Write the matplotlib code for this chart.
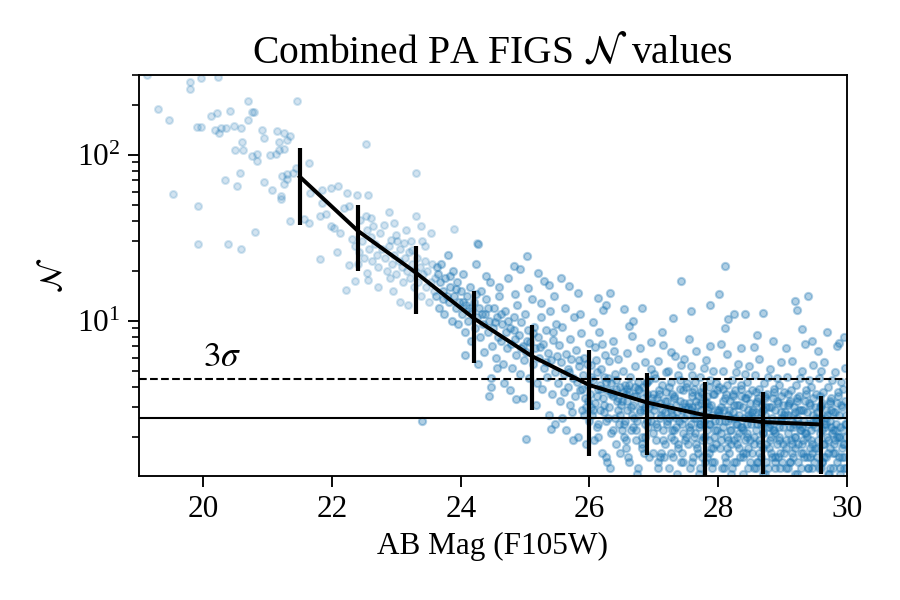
import numpy as np
import matplotlib
matplotlib.use("Agg")
import matplotlib.pyplot as plt

plt.rcParams["font.family"] = ["Liberation Serif", "DejaVu Serif"]
plt.rcParams["mathtext.fontset"] = "stix"

# binned median curve
bin_mag = [21.5, 22.4, 23.3, 24.2, 25.1, 26.0, 26.9, 27.8, 28.7, 29.6]
bin_n = [73.6, 34.8, 19.5, 10.35, 6.13, 4.09, 3.21, 2.69, 2.45, 2.37]
bin_err = [36.0, 15.0, 8.5, 4.8, 3.25, 2.55, 1.65, 1.57, 1.25, 1.17]

line_3sigma = 4.48
line_mean = 2.61

# scatter cloud, estimated point by point (mag, N)
bright_pts = [
    (19.12, 300), (19.30, 189), (19.47, 161), (19.53, 58), (19.79, 273), (19.79, 249), (19.96, 290),
    (19.90, 146), (19.96, 146), (19.92, 49), (19.91, 29), (20.12, 172), (20.22, 178), (20.23, 295),
    (20.18, 141), (20.25, 136), (20.27, 144), (20.36, 144), (20.42, 184), (20.38, 29), (20.33, 70),
    (20.48, 148), (20.58, 144), (20.50, 107), (20.61, 106), (20.52, 65), (20.57, 78), (20.58, 27),
    (20.60, 119), (20.70, 212), (20.76, 182), (20.79, 180), (20.69, 162), (20.76, 98), (20.83, 101),
    (20.83, 91), (20.80, 34), (20.91, 140), (20.94, 126), (20.94, 68), (21.03, 99), (21.13, 101),
    (21.07, 61), (21.20, 56), (21.21, 54), (21.15, 138), (21.17, 120), (21.26, 135), (21.30, 123),
    (21.35, 130), (21.25, 108), (21.17, 107), (21.22, 74), (21.30, 76), (21.40, 78), (21.44, 83),
    (21.26, 67), (21.30, 71), (21.46, 211), (21.35, 40), (21.56, 41), (21.64, 39), (21.64, 89),
]

band_pts = [
    (21.66, 59), (21.85, 61), (21.98, 63), (22.10, 65), (21.85, 51), (21.90, 44), (21.82, 42.5),
    (21.98, 37), (22.03, 36), (22.13, 33.7), (22.18, 47.7), (22.26, 48.9), (22.24, 59), (22.39, 57),
    (22.56, 57), (22.52, 116), (21.82, 23.5), (22.08, 25.8), (22.22, 15.4), (22.35, 17.3),
    (22.26, 21.7), (22.55, 19.4), (22.56, 17.7), (22.44, 40.6), (22.52, 42.5), (22.60, 41.5),
    (22.64, 37), (22.75, 33.7), (22.80, 37.8), (22.96, 38.8), (22.91, 30.8), (23.01, 30),
    (23.12, 29.4), (23.22, 30), (23.30, 42.5), (23.38, 37), (23.53, 33.7), (23.31, 77.6),
    (23.90, 35.6), (24.26, 29.4),
    (22.31, 31), (22.36, 28), (22.42, 26), (22.47, 30), (22.50, 24), (22.58, 27), (22.62, 23),
    (22.67, 29), (22.70, 25), (22.72, 21), (22.78, 27), (22.83, 24), (22.85, 20), (22.88, 28),
    (22.93, 22), (22.97, 25), (23.00, 19), (23.04, 23), (23.06, 27), (23.09, 21), (23.11, 17),
    (23.14, 24), (23.17, 20), (23.19, 26), (23.21, 18), (23.24, 22), (23.27, 16), (23.29, 20),
    (23.32, 24), (23.34, 17), (23.36, 21), (23.39, 14), (23.41, 19), (23.44, 23), (23.46, 16),
    (23.48, 20), (23.51, 13), (23.53, 17), (23.56, 22), (23.58, 15), (23.60, 18), (22.72, 16),
    (22.95, 15), (23.05, 13), (23.18, 12.5), (23.25, 26.5), (23.45, 28), (22.88, 45), (23.15, 35),
    (23.40, 30), (22.60, 32), (22.40, 22), (22.55, 35), (22.90, 18), (23.00, 33),
]

mid_pts = [
    (23.62, 14), (23.64, 19), (23.66, 12), (23.68, 17), (23.70, 22), (23.72, 15), (23.74, 11),
    (23.76, 18), (23.78, 14), (23.80, 25), (23.82, 13), (23.84, 16), (23.86, 10), (23.88, 20),
    (23.90, 14), (23.92, 12), (23.94, 17), (23.96, 9.5), (23.98, 13), (24.00, 15), (24.02, 11),
    (24.04, 19), (24.06, 8.5), (24.08, 12.5), (24.10, 14), (24.12, 10), (24.14, 16), (24.16, 7.5),
    (24.18, 11.5), (24.20, 13), (24.22, 9), (24.24, 22), (24.26, 10.5), (24.28, 12), (24.30, 8),
    (24.32, 15), (24.34, 9.5), (24.36, 6.5), (24.38, 11), (24.40, 13.5), (24.42, 8.5), (24.44, 10),
    (24.46, 17), (24.48, 7), (24.50, 9), (24.52, 12), (24.54, 6), (24.56, 10.5), (24.58, 8),
    (24.60, 14), (24.62, 7.5), (24.64, 9.5), (24.66, 5.5), (24.68, 11.5), (24.70, 8.5), (24.72, 6.8),
    (24.74, 18), (24.76, 9), (24.78, 7.2), (24.80, 5.2), (24.82, 10.5), (24.84, 7.8), (24.86, 6.2),
    (24.88, 12.5), (24.90, 8.2), (24.92, 4.8), (24.94, 9.8), (24.96, 7), (24.98, 5.8), (25.00, 11),
    (25.02, 6.5), (25.04, 8.8), (25.06, 4.5), (25.08, 7.4), (25.10, 13.5), (25.12, 5.5), (25.14, 9.2),
    (25.16, 6.8), (25.18, 4.2), (25.20, 8), (25.22, 6), (25.24, 10.5), (25.26, 3.9), (25.28, 7.2),
    (25.30, 5.2), (25.32, 8.8), (25.34, 4.6), (25.36, 6.4), (25.38, 11.5), (25.40, 5.8), (25.42, 3.6),
    (25.44, 7.6), (25.46, 4.9), (25.48, 9.5), (25.50, 6.1),
    (23.63, 21), (23.73, 13.5), (23.83, 18.5), (23.93, 15.5), (24.03, 13), (24.13, 12), (24.23, 14.5),
    (24.33, 11), (24.43, 12), (24.53, 9.8), (24.63, 11), (24.73, 10), (24.83, 8.8), (24.93, 6.8),
    (25.03, 7.5), (25.13, 8.4), (25.23, 6.9), (25.33, 5.6), (25.43, 8.5), (24.07, 6.2), (24.27, 5.5),
    (24.47, 4.5), (24.57, 5.2), (24.67, 4.2), (24.77, 3.8), (24.97, 3.4), (25.17, 3.1), (25.37, 2.7),
    (25.47, 2.4), (24.40, 18.5), (24.60, 16), (24.85, 14.5), (25.05, 15.8), (25.25, 12.8), (25.45, 14),
    (24.44, 3.5), (24.47, 4.0), (24.86, 3.39), (25.01, 1.95), (25.40, 2.24), (23.40, 2.47),
    (24.27, 29.1), (25.03, 24.6), (24.83, 21.4), (24.92, 20.6), (25.20, 19.5), (25.29, 17.3),
    (25.37, 16.5),
]

faint_pts = [
    # 25.5 - 26
    (25.51, 4.2), (25.52, 7.1), (25.54, 3.3), (25.55, 5.6), (25.57, 2.6), (25.58, 9.2), (25.60, 4.8),
    (25.61, 3.7), (25.63, 6.3), (25.64, 2.2), (25.66, 5.1), (25.67, 4.0), (25.69, 7.8), (25.70, 3.1),
    (25.72, 5.9), (25.73, 2.8), (25.75, 4.5), (25.76, 10.5), (25.78, 3.5), (25.79, 6.7), (25.81, 4.3),
    (25.82, 2.0), (25.84, 5.3), (25.85, 3.8), (25.87, 8.4), (25.88, 2.9), (25.90, 4.7), (25.91, 6.0),
    (25.93, 3.4), (25.94, 1.8), (25.96, 5.5), (25.97, 4.1), (25.99, 7.3), (26.00, 2.5), (25.62, 12.0),
    (25.86, 11.0), (25.74, 1.9), (25.95, 3.0), (25.68, 4.9), (25.83, 5.8),
    # 26 - 26.5
    (26.01, 3.6), (26.02, 5.4), (26.04, 2.7), (26.05, 4.4), (26.07, 1.9), (26.08, 6.9), (26.09, 3.2),
    (26.11, 4.9), (26.12, 2.3), (26.14, 3.9), (26.15, 8.6), (26.17, 2.9), (26.18, 5.1), (26.19, 1.6),
    (26.21, 3.4), (26.22, 4.6), (26.24, 6.2), (26.25, 2.5), (26.27, 3.8), (26.28, 1.4), (26.30, 5.7),
    (26.31, 3.0), (26.33, 4.2), (26.34, 2.1), (26.36, 7.5), (26.37, 3.5), (26.39, 2.6), (26.40, 4.8),
    (26.42, 1.8), (26.43, 3.3), (26.45, 5.9), (26.46, 2.4), (26.48, 4.0), (26.49, 3.1), (26.06, 9.8),
    (26.26, 1.5), (26.38, 6.6), (26.13, 2.0), (26.29, 4.5), (26.44, 2.9), (26.03, 3.0), (26.16, 4.1),
    (26.23, 2.8), (26.35, 3.7), (26.47, 1.6), (26.10, 5.8), (26.32, 1.3), (26.41, 3.9), (26.20, 7.2),
    (26.50, 2.2),
    # 26.5 - 27
    (26.51, 3.3), (26.52, 5.0), (26.54, 2.4), (26.55, 4.1), (26.56, 1.7), (26.58, 6.4), (26.59, 2.9),
    (26.61, 3.7), (26.62, 1.4), (26.63, 4.6), (26.65, 2.2), (26.66, 8.1), (26.68, 3.1), (26.69, 2.6),
    (26.71, 5.3), (26.72, 1.9), (26.73, 3.5), (26.75, 4.3), (26.76, 1.3), (26.78, 2.8), (26.79, 6.8),
    (26.80, 3.2), (26.82, 2.0), (26.83, 4.0), (26.85, 1.6), (26.86, 3.0), (26.87, 5.6), (26.89, 2.5),
    (26.90, 3.6), (26.92, 1.5), (26.93, 4.4), (26.94, 2.7), (26.96, 7.4), (26.97, 3.4), (26.99, 2.1),
    (27.00, 4.8), (26.53, 2.0), (26.57, 3.6), (26.60, 1.5), (26.64, 3.0), (26.67, 2.3), (26.70, 4.0),
    (26.74, 2.5), (26.77, 3.8), (26.81, 1.8), (26.84, 2.9), (26.88, 4.2), (26.91, 2.3), (26.95, 3.2),
    (26.98, 1.6), (26.62, 9.3), (26.74, 1.2), (26.86, 2.4), (26.95, 5.1), (26.58, 3.9),
    # 27 - 27.5
    (27.01, 2.9), (27.02, 4.5), (27.03, 1.9), (27.05, 3.4), (27.06, 1.4), (27.07, 5.7), (27.09, 2.6),
    (27.10, 3.2), (27.11, 1.6), (27.13, 4.1), (27.14, 2.2), (27.15, 7.1), (27.17, 2.8), (27.18, 1.8),
    (27.19, 3.7), (27.21, 2.4), (27.22, 5.0), (27.23, 1.3), (27.25, 3.0), (27.26, 2.0), (27.27, 4.3),
    (27.29, 2.7), (27.30, 1.5), (27.31, 3.5), (27.33, 6.1), (27.34, 2.3), (27.35, 3.1), (27.37, 1.7),
    (27.38, 4.7), (27.39, 2.5), (27.41, 3.3), (27.42, 1.4), (27.43, 5.4), (27.45, 2.1), (27.46, 3.8),
    (27.47, 2.6), (27.49, 1.9), (27.50, 4.0), (27.04, 2.4), (27.08, 3.8), (27.12, 2.9), (27.16, 1.5),
    (27.20, 3.3), (27.24, 2.6), (27.28, 3.6), (27.32, 1.9), (27.36, 2.8), (27.40, 4.4), (27.44, 1.6),
    (27.48, 3.0), (27.12, 8.6), (27.36, 1.2), (27.26, 6.5), (27.44, 2.9), (27.07, 1.3), (27.19, 4.9),
    (27.31, 2.2), (27.47, 5.9),
    # 27.5 - 28
    (27.51, 2.7), (27.52, 4.2), (27.53, 1.8), (27.55, 3.2), (27.56, 1.3), (27.57, 5.3), (27.58, 2.4),
    (27.60, 3.0), (27.61, 1.5), (27.62, 3.9), (27.64, 2.1), (27.65, 6.6), (27.66, 2.6), (27.67, 1.7),
    (27.69, 3.5), (27.70, 2.3), (27.71, 4.6), (27.72, 1.3), (27.74, 2.9), (27.75, 1.9), (27.76, 4.0),
    (27.78, 2.5), (27.79, 1.4), (27.80, 3.3), (27.81, 5.8), (27.83, 2.2), (27.84, 2.9), (27.85, 1.6),
    (27.87, 4.4), (27.88, 2.4), (27.89, 3.1), (27.90, 1.3), (27.92, 5.0), (27.93, 2.0), (27.94, 3.6),
    (27.95, 2.5), (27.97, 1.8), (27.98, 3.8), (27.99, 2.8), (27.54, 2.3), (27.59, 3.7), (27.63, 2.8),
    (27.68, 1.6), (27.73, 3.2), (27.77, 2.0), (27.82, 3.5), (27.86, 1.9), (27.91, 2.7), (27.96, 4.2),
    (27.54, 7.8), (27.70, 1.2), (27.88, 7.0), (27.62, 2.0), (27.78, 5.2), (27.66, 3.3), (27.83, 1.5),
    (27.94, 1.4), (27.57, 2.9), (27.72, 2.4), (27.86, 3.0), (27.98, 2.2), (27.60, 4.7), (27.75, 3.6),
    (27.92, 1.7),
    # 28 - 28.5
    (28.01, 2.5), (28.02, 4.0), (28.03, 1.7), (28.04, 3.0), (28.06, 1.3), (28.07, 5.0), (28.08, 2.3),
    (28.09, 2.9), (28.11, 1.5), (28.12, 3.6), (28.13, 2.0), (28.14, 6.3), (28.16, 2.5), (28.17, 1.6),
    (28.18, 3.3), (28.19, 2.2), (28.21, 4.4), (28.22, 1.3), (28.23, 2.8), (28.24, 1.9), (28.26, 3.8),
    (28.27, 2.4), (28.28, 1.4), (28.29, 3.1), (28.31, 5.5), (28.32, 2.1), (28.33, 2.7), (28.34, 1.5),
    (28.36, 4.1), (28.37, 2.3), (28.38, 3.0), (28.39, 1.2), (28.41, 4.8), (28.42, 1.9), (28.43, 3.4),
    (28.44, 2.4), (28.46, 1.7), (28.47, 3.6), (28.48, 2.6), (28.49, 1.4), (28.05, 2.1), (28.10, 3.4),
    (28.15, 2.7), (28.20, 1.8), (28.25, 3.1), (28.30, 2.0), (28.35, 3.5), (28.40, 2.6), (28.45, 2.0),
    (28.50, 3.2), (28.05, 7.2), (28.20, 1.2), (28.35, 6.8), (28.48, 5.3), (28.12, 1.4), (28.27, 4.9),
    (28.43, 1.6), (28.08, 3.9), (28.18, 2.6), (28.32, 1.7), (28.38, 2.2), (28.02, 2.7), (28.23, 3.5),
    (28.44, 4.3), (28.15, 1.9), (28.29, 2.4), (28.47, 2.9), (28.10, 9.0),
    # 28.5 - 29
    (28.51, 2.4), (28.52, 3.8), (28.53, 1.6), (28.54, 2.9), (28.56, 1.3), (28.57, 4.7), (28.58, 2.2),
    (28.59, 2.8), (28.61, 1.4), (28.62, 3.4), (28.63, 1.9), (28.64, 5.9), (28.66, 2.4), (28.67, 1.5),
    (28.68, 3.1), (28.69, 2.1), (28.71, 4.2), (28.72, 1.2), (28.73, 2.7), (28.74, 1.8), (28.76, 3.6),
    (28.77, 2.3), (28.78, 1.3), (28.79, 3.0), (28.81, 5.1), (28.82, 2.0), (28.83, 2.6), (28.84, 1.5),
    (28.86, 3.9), (28.87, 2.2), (28.88, 2.9), (28.89, 1.3), (28.91, 4.5), (28.92, 1.8), (28.93, 3.2),
    (28.94, 2.3), (28.96, 1.6), (28.97, 3.5), (28.98, 2.5), (28.99, 1.4), (28.55, 2.0), (28.60, 3.3),
    (28.65, 2.6), (28.70, 1.7), (28.75, 3.0), (28.80, 1.9), (28.85, 3.4), (28.90, 2.5), (28.95, 1.9),
    (29.00, 3.1), (28.55, 6.9), (28.70, 1.2), (28.85, 7.5), (28.97, 5.6), (28.62, 1.4), (28.77, 4.6),
    (28.93, 1.5), (28.58, 3.7), (28.68, 2.5), (28.82, 1.6), (28.88, 2.1), (28.52, 2.6), (28.73, 3.4),
    (28.94, 4.1), (28.65, 1.8), (28.79, 2.3), (28.98, 2.8), (28.70, 11.2), (28.60, 8.2),
    # 29 - 29.5
    (29.01, 2.3), (29.02, 3.7), (29.03, 1.6), (29.04, 2.8), (29.06, 1.3), (29.07, 4.6), (29.08, 2.1),
    (29.09, 2.7), (29.11, 1.4), (29.12, 3.3), (29.13, 1.9), (29.14, 5.7), (29.16, 2.3), (29.17, 1.5),
    (29.18, 3.0), (29.19, 2.0), (29.21, 4.1), (29.22, 1.2), (29.23, 2.6), (29.24, 1.8), (29.26, 3.5),
    (29.27, 2.2), (29.28, 1.3), (29.29, 2.9), (29.31, 5.0), (29.32, 1.9), (29.33, 2.5), (29.34, 1.5),
    (29.36, 3.8), (29.37, 2.1), (29.38, 2.8), (29.39, 1.3), (29.41, 4.4), (29.42, 1.7), (29.43, 3.1),
    (29.44, 2.2), (29.46, 1.6), (29.47, 3.4), (29.48, 2.4), (29.49, 1.4), (29.05, 1.9), (29.10, 3.2),
    (29.15, 2.5), (29.20, 1.7), (29.25, 2.9), (29.30, 1.8), (29.35, 3.3), (29.40, 2.4), (29.45, 1.8),
    (29.50, 3.0), (29.05, 6.8), (29.20, 1.2), (29.35, 7.2), (29.47, 5.4), (29.12, 1.4), (29.27, 4.5),
    (29.43, 1.5), (29.08, 3.6), (29.18, 2.4), (29.32, 1.6), (29.38, 2.0), (29.02, 2.5), (29.23, 3.3),
    (29.44, 4.0), (29.15, 1.8), (29.29, 2.2), (29.48, 2.7), (29.19, 13.1), (29.22, 11.6), (29.40, 14.0),
    (29.45, 7.5), (29.30, 8.9),
    # 29.5 - 30
    (29.51, 2.3), (29.52, 3.6), (29.53, 1.5), (29.54, 2.8), (29.56, 1.3), (29.57, 4.5), (29.58, 2.1),
    (29.59, 2.6), (29.61, 1.4), (29.62, 3.2), (29.63, 1.8), (29.64, 5.6), (29.66, 2.3), (29.67, 1.5),
    (29.68, 2.9), (29.69, 2.0), (29.71, 4.0), (29.72, 1.2), (29.73, 2.5), (29.74, 1.7), (29.76, 3.4),
    (29.77, 2.1), (29.78, 1.3), (29.79, 2.8), (29.81, 4.9), (29.82, 1.9), (29.83, 2.4), (29.84, 1.4),
    (29.86, 3.7), (29.87, 2.0), (29.88, 2.7), (29.89, 1.2), (29.91, 4.3), (29.92, 1.7), (29.93, 3.0),
    (29.94, 2.2), (29.96, 1.5), (29.97, 3.3), (29.98, 2.4), (29.99, 1.3), (29.55, 1.9), (29.60, 3.1),
    (29.65, 2.4), (29.70, 1.6), (29.75, 2.9), (29.80, 1.8), (29.85, 3.2), (29.90, 2.3), (29.95, 1.8),
    (29.55, 6.6), (29.70, 1.2), (29.85, 7.0), (29.97, 5.2), (29.62, 1.4), (29.77, 4.4), (29.93, 1.5),
    (29.58, 3.5), (29.68, 2.4), (29.82, 1.6), (29.88, 2.0), (29.52, 2.5), (29.73, 3.2), (29.94, 3.9),
    (29.65, 1.8), (29.79, 2.2), (29.98, 2.7), (29.69, 8.6), (29.87, 7.3), (29.95, 8.0), (29.60, 5.0),
    # upper outliers
    (26.32, 14.7), (26.13, 13.7), (26.21, 11.6), (26.25, 12.5), (26.54, 11.8), (26.67, 10.0),
    (26.81, 11.9), (27.30, 10.4), (27.43, 17.3), (27.58, 11.4), (27.87, 12.5), (28.02, 14.4),
    (28.10, 21.4), (28.15, 10.2), (28.25, 11.0), (28.42, 10.9), (25.56, 18.1), (25.68, 16.1),
    (25.82, 14.7),
]

core_pts = [
    (25.88, 3.9), (25.92, 2.7), (25.98, 3.3), (26.03, 4.6), (26.06, 2.9), (26.11, 3.5), (26.14, 2.4),
    (26.18, 3.9), (26.22, 3.1), (26.26, 4.3), (26.29, 2.6), (26.33, 3.6), (26.37, 2.2), (26.41, 4.4),
    (26.44, 3.4), (26.48, 2.7),
    (26.52, 3.7), (26.55, 2.5), (26.59, 3.3), (26.62, 4.1), (26.66, 2.7), (26.69, 3.5), (26.72, 2.2),
    (26.76, 3.9), (26.79, 2.9), (26.83, 3.4), (26.86, 2.0), (26.89, 4.3), (26.93, 3.0), (26.96, 2.5),
    (26.99, 3.6), (26.57, 1.9), (26.81, 1.7),
    (27.02, 3.1), (27.05, 2.3), (27.08, 3.6), (27.11, 2.7), (27.14, 1.9), (27.17, 3.3), (27.20, 2.5),
    (27.23, 4.0), (27.26, 2.9), (27.29, 2.2), (27.32, 3.4), (27.35, 2.6), (27.38, 1.8), (27.41, 3.9),
    (27.44, 2.4), (27.47, 3.2), (27.50, 2.0), (27.09, 1.5), (27.27, 1.6), (27.45, 1.4),
    (27.53, 3.0), (27.56, 2.2), (27.59, 3.5), (27.62, 2.6), (27.65, 1.8), (27.68, 3.1), (27.71, 2.4),
    (27.74, 3.7), (27.77, 2.7), (27.80, 2.0), (27.83, 3.2), (27.86, 2.4), (27.89, 1.7), (27.92, 3.6),
    (27.95, 2.2), (27.98, 2.9), (27.60, 1.4), (27.75, 1.5), (27.90, 1.4), (27.64, 4.3), (27.85, 4.0),
    (28.02, 2.9), (28.05, 1.9), (28.08, 3.3), (28.11, 2.5), (28.14, 1.7), (28.17, 2.9), (28.20, 2.2),
    (28.23, 3.6), (28.26, 2.6), (28.29, 1.8), (28.32, 3.1), (28.35, 2.3), (28.38, 1.6), (28.41, 3.4),
    (28.44, 2.1), (28.47, 2.7), (28.50, 1.9), (28.09, 1.3), (28.24, 1.4), (28.39, 1.5), (28.13, 4.1),
    (28.36, 3.9), (28.46, 1.3),
    (28.52, 2.8), (28.55, 1.8), (28.58, 3.2), (28.61, 2.4), (28.64, 1.6), (28.67, 2.8), (28.70, 2.1),
    (28.73, 3.5), (28.76, 2.5), (28.79, 1.7), (28.82, 3.0), (28.85, 2.2), (28.88, 1.5), (28.91, 3.3),
    (28.94, 2.0), (28.97, 2.6), (29.00, 1.8), (28.59, 1.3), (28.74, 1.4), (28.89, 1.4), (28.63, 3.9),
    (28.86, 3.7), (28.96, 1.3), (28.69, 2.9), (28.81, 2.4),
    (29.02, 2.7), (29.05, 1.7), (29.08, 3.1), (29.11, 2.3), (29.14, 1.6), (29.17, 2.7), (29.20, 2.0),
    (29.23, 3.4), (29.26, 2.4), (29.29, 1.6), (29.32, 2.9), (29.35, 2.1), (29.38, 1.5), (29.41, 3.2),
    (29.44, 1.9), (29.47, 2.5), (29.50, 1.7), (29.09, 1.3), (29.24, 1.4), (29.39, 1.3), (29.13, 3.8),
    (29.36, 3.6), (29.46, 1.3), (29.19, 2.8), (29.31, 2.3),
    (29.52, 2.6), (29.55, 1.7), (29.58, 3.0), (29.61, 2.2), (29.64, 1.5), (29.67, 2.6), (29.70, 1.9),
    (29.73, 3.3), (29.76, 2.3), (29.79, 1.6), (29.82, 2.8), (29.85, 2.0), (29.88, 1.5), (29.91, 3.1),
    (29.94, 1.8), (29.97, 2.4), (29.59, 1.3), (29.74, 1.3), (29.89, 1.3), (29.63, 3.7), (29.86, 3.5),
    (29.96, 1.3), (29.69, 2.7), (29.81, 2.2), (29.99, 2.0),
]

fig, ax = plt.subplots(figsize=(6, 4), dpi=150)
fig.subplots_adjust(left=0.1544, right=0.941, top=0.875, bottom=0.2067)

sparse = np.array(bright_pts + band_pts)
dense = np.array(mid_pts + faint_pts + core_pts)
ax.scatter(sparse[:, 0], sparse[:, 1], s=11, color="C0", alpha=0.2)
ax.scatter(dense[:, 0], dense[:, 1], s=12, color="C0", alpha=0.35)

ax.axhline(line_3sigma, color="k", ls="--", lw=1.0)
ax.axhline(line_mean, color="k", ls="-", lw=1.0)
ax.text(20.0, line_3sigma * 1.06, r"$3\sigma$", fontsize=17, ha="left", va="bottom")

ax.errorbar(bin_mag, bin_n, yerr=bin_err, color="k", lw=1.9, elinewidth=2.0, capsize=0)

ax.set_yscale("log")
ax.set_xlim(19, 30)
ax.set_ylim(1.16, 302)
ax.set_xticks([20, 22, 24, 26, 28, 30])
ax.tick_params(axis="both", which="major", labelsize=15, length=5.5, width=0.9)
ax.tick_params(axis="both", which="minor", length=3.5, width=0.8)
for s in ax.spines.values():
    s.set_linewidth(0.9)

ax.set_xlabel("AB Mag (F105W)", fontsize=15)
ax.set_ylabel(r"$\mathcal{N}$", fontsize=15)
ax.set_title(r"Combined PA FIGS $\mathcal{N}$ values", fontsize=19)

fig.savefig("out.png", dpi=150)
